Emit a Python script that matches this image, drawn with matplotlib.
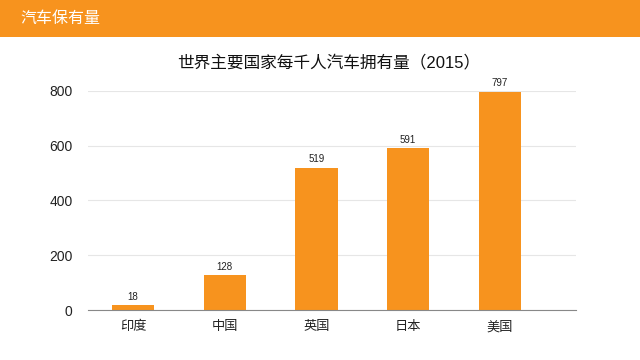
import matplotlib.pyplot as plt
from matplotlib.patches import Rectangle

# latin glyphs from an Arial-like face, CJK falls back to Noto
plt.rcParams['font.family'] = ['Liberation Sans', 'Noto Sans CJK SC', 'DejaVu Sans']

countries = ["印度", "中国", "英国", "日本", "美国"]
cars_per_1000 = [18, 128, 519, 591, 797]
y_ticks = [0, 200, 400, 600, 800]

orange = "#F7931E"

fig = plt.figure(figsize=(6.4, 3.6), dpi=100)
fig.patch.set_facecolor("white")

# header strip
fig.patches.append(Rectangle((0, 1 - 37 / 360), 1, 37 / 360, transform=fig.transFigure,
                             facecolor=orange, edgecolor="none", zorder=0))
fig.text(20 / 640, 1 - 18 / 360, "汽车保有量", color="white", fontsize=11.5,
         ha="left", va="center")

fig.text(329 / 640, 1 - 62 / 360, "世界主要国家每千人汽车拥有量（2015）", color="#111111",
         fontsize=12, ha="center", va="center")

ax = fig.add_axes([88 / 640, 50 / 360, 488 / 640, 219.3 / 360])
x = range(len(countries))
ax.bar(x, cars_per_1000, width=0.46, color=orange, zorder=3)
for xi, v in zip(x, cars_per_1000):
    ax.text(xi, v + 12, str(v), ha="center", va="bottom", fontsize=7, color="#222222")

ax.set_xlim(-0.49, 4.83)
ax.set_ylim(0, 800)
ax.set_yticks(y_ticks)
ax.set_xticks(list(x))
ax.set_xticklabels(countries, fontsize=9.5, color="#222222")
ax.tick_params(axis="y", length=0, pad=11, labelsize=10, labelcolor="#222222")
ax.tick_params(axis="x", length=0, pad=8)
ax.grid(axis="y", color="#e6e6e6", linewidth=0.8, zorder=0)
for s in ["top", "right", "left"]:
    ax.spines[s].set_visible(False)
ax.spines["bottom"].set_color("#888888")
ax.spines["bottom"].set_linewidth(0.8)
ax.spines["bottom"].set_zorder(4)

fig.savefig("out.png", dpi=100)
